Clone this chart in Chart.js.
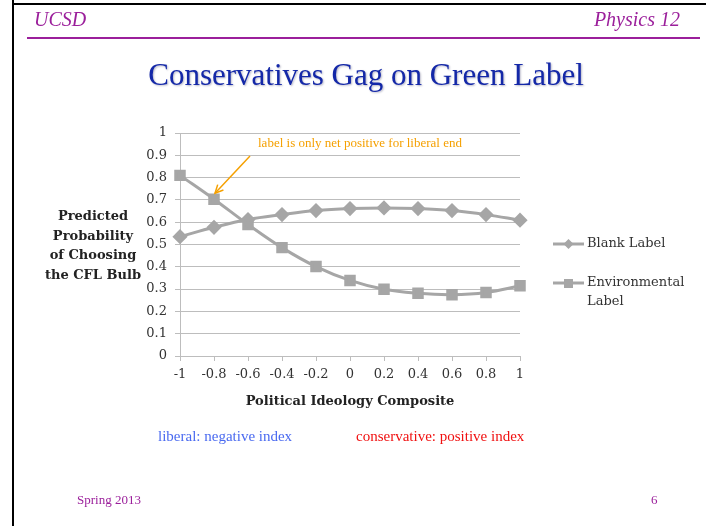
<!DOCTYPE html>
<html>
<head>
<meta charset="utf-8">
<script src="https://cdn.jsdelivr.net/npm/chart.js@4"></script>
<style>
  body { margin: 0; background: #fff; }
  #slide { position: relative; width: 706px; height: 526px; overflow: hidden; font-family: "Liberation Serif", serif; }
  #slide canvas { position: absolute; left: 0; top: 0; }
  .txt { position: absolute; white-space: nowrap; }
</style>
</head>
<body>
<div id="slide">
  <canvas id="chart" width="706" height="526"></canvas>
  <div style="position:absolute;left:12px;top:0;width:2px;height:526px;background:#000"></div>
  <div style="position:absolute;left:12px;top:3px;width:694px;height:2px;background:#000"></div>
  <div class="txt" style="left:34px;top:8px;font-size:20px;font-style:italic;color:#9b1f9b">UCSD</div>
  <div class="txt" style="right:26px;top:8px;font-size:20px;font-style:italic;color:#9b1f9b">Physics 12</div>
  <div style="position:absolute;left:27px;top:37px;width:673px;height:2px;background:#9b1f9b"></div>
  <div class="txt" style="left:0;width:732px;text-align:center;top:57px;font-size:31px;color:#1428a8;text-shadow:1px 1px 2px #b8b8c8">Conservatives Gag on Green Label</div>
  <div class="txt" style="left:158px;top:428px;font-size:15px;color:#4a6af0">liberal: negative index</div>
  <div class="txt" style="left:356px;top:428px;font-size:15px;color:#f01010">conservative: positive index</div>
  <div class="txt" style="left:77px;top:492px;font-size:13px;color:#9b1f9b">Spring 2013</div>
  <div class="txt" style="left:651px;top:492px;font-size:13px;color:#9b1f9b">6</div>
</div>
<script>
const ideology = [-1, -0.8, -0.6, -0.4, -0.2, 0, 0.2, 0.4, 0.6, 0.8, 1];
const blankLabel = [0.535, 0.577, 0.612, 0.634, 0.652, 0.661, 0.664, 0.661, 0.652, 0.634, 0.609];
const environmentalLabel = [0.81, 0.703, 0.59, 0.486, 0.401, 0.339, 0.299, 0.281, 0.275, 0.285, 0.315];
const yTitleLines = ["Predicted", "Probability", "of Choosing", "the CFL Bulb"];
const xTitle = "Political Ideology Composite";
const noteText = "label is only net positive for liberal end";

const gray = '#a6a6a6';
const chartFont = '"DejaVu Serif", serif';

function toPoints(values) {
    return ideology.map((x, i) => ({ x: x, y: values[i] }));
}

function fmt(v) {
    return String(Number(v.toFixed(1)));
}

// draws the horizontal y title, x title, note + arrow and the legend
const extras = {
    id: 'extras',
    afterDraw(chart) {
        const ctx = chart.ctx;
        const area = chart.chartArea;
        const xs = chart.scales.x, ys = chart.scales.y;
        ctx.save();
        ctx.fillStyle = '#222';
        ctx.textAlign = 'center';
        ctx.textBaseline = 'middle';
        ctx.font = 'bold 13px ' + chartFont;
        yTitleLines.forEach((line, i) => {
            ctx.fillText(line, 93, 217 + i * 19.5);
        });
        ctx.fillText(xTitle, (area.left + area.right) / 2, 402);

        // note and arrow
        ctx.fillStyle = '#f5a000';
        ctx.font = '13px "Liberation Serif", serif';
        ctx.textAlign = 'left';
        ctx.fillText(noteText, 258, 144);
        const tx = xs.getPixelForValue(-0.8) + 1, ty = ys.getPixelForValue(environmentalLabel[1]) - 6;
        ctx.strokeStyle = '#f5a000';
        ctx.lineWidth = 1.5;
        ctx.beginPath();
        ctx.moveTo(250, 156);
        ctx.lineTo(tx, ty);
        ctx.stroke();
        const ang = Math.atan2(ty - 156, tx - 250);
        ctx.beginPath();
        ctx.moveTo(tx - 9 * Math.cos(ang - 0.45), ty - 9 * Math.sin(ang - 0.45));
        ctx.lineTo(tx, ty);
        ctx.lineTo(tx - 9 * Math.cos(ang + 0.45), ty - 9 * Math.sin(ang + 0.45));
        ctx.stroke();

        // legend
        ctx.font = '13px ' + chartFont;
        ctx.fillStyle = '#333';
        ctx.textBaseline = 'middle';
        const items = [
            { y: 244, style: 'rectRot', lines: ['Blank Label'] },
            { y: 283, style: 'rect', lines: ['Environmental', 'Label'] }
        ];
        items.forEach(it => {
            ctx.strokeStyle = gray;
            ctx.lineWidth = 3;
            ctx.beginPath();
            ctx.moveTo(553, it.y);
            ctx.lineTo(584, it.y);
            ctx.stroke();
            ctx.fillStyle = gray;
            if (it.style === 'rect') {
                ctx.fillRect(564, it.y - 4, 9, 9);
            } else {
                ctx.beginPath();
                ctx.moveTo(568.5, it.y - 5);
                ctx.lineTo(573.5, it.y);
                ctx.lineTo(568.5, it.y + 5);
                ctx.lineTo(563.5, it.y);
                ctx.closePath();
                ctx.fill();
            }
            ctx.fillStyle = '#333';
            it.lines.forEach((l, j) => ctx.fillText(l, 587, it.y + j * 19));
        });
        ctx.restore();
    }
};

const ctx = document.getElementById('chart').getContext('2d');
const chart = new Chart(ctx, {
    type: 'line',
    data: {
        datasets: [{
            label: 'Blank Label',
            data: toPoints(blankLabel),
            borderColor: gray,
            backgroundColor: gray,
            borderWidth: 3,
            pointStyle: 'rectRot',
            pointRadius: 5.5,
            tension: 0.4,
            clip: false
        }, {
            label: 'Environmental Label',
            data: toPoints(environmentalLabel),
            borderColor: gray,
            backgroundColor: gray,
            borderWidth: 3,
            pointStyle: 'rect',
            pointRadius: 6,
            tension: 0.4,
            clip: false
        }]
    },
    options: {
        responsive: false,
        animation: false,
        layout: { padding: { left: 140, right: 186, top: 133, bottom: 140 } },
        plugins: {
            legend: { display: false },
            tooltip: { enabled: false }
        },
        scales: {
            x: {
                type: 'linear',
                min: -1,
                max: 1,
                afterFit: (scale) => { scale.height = 30; },
                border: { color: '#bdbdbd', width: 1 },
                grid: { drawOnChartArea: false, tickLength: 5, color: '#bdbdbd' },
                ticks: {
                    stepSize: 0.2,
                    padding: 6,
                    color: '#333',
                    font: { family: chartFont, size: 13 },
                    maxRotation: 0,
                    callback: (v) => fmt(v)
                }
            },
            y: {
                min: 0,
                max: 1,
                afterFit: (scale) => { scale.width = 40; },
                border: { color: '#bdbdbd', width: 1 },
                grid: { tickLength: 5, color: '#bdbdbd' },
                ticks: {
                    stepSize: 0.1,
                    padding: 8,
                    color: '#333',
                    font: { family: chartFont, size: 13 },
                    callback: (v) => fmt(v)
                }
            }
        }
    },
    plugins: [extras]
});
</script>
</body>
</html>
